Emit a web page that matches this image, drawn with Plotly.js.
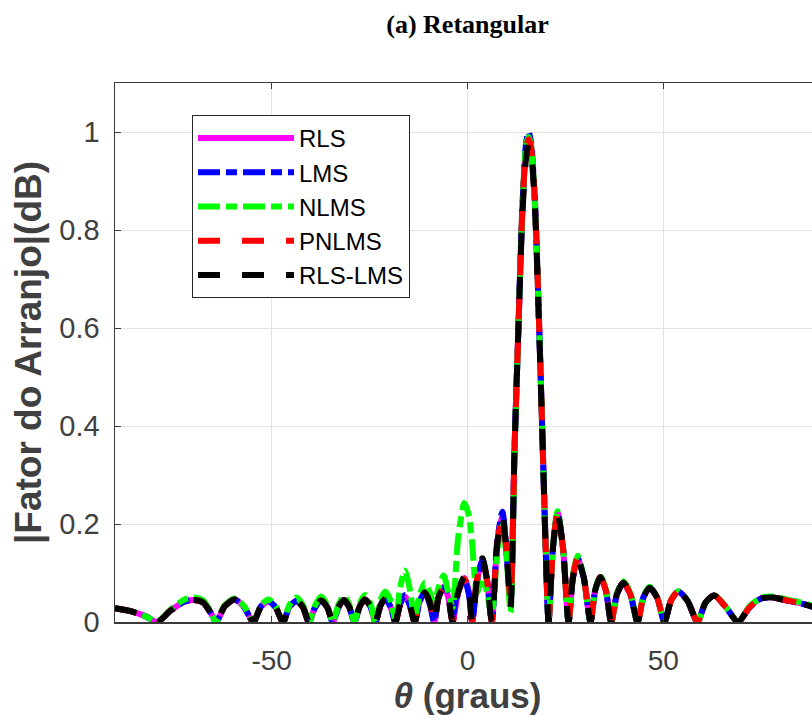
<!DOCTYPE html>
<html>
<head>
<meta charset="utf-8">
<script src="https://cdn.plot.ly/plotly-3.0.1.min.js"></script>
<style>html,body{margin:0;padding:0;overflow:hidden;background:#fff;}#chart{width:830px;height:715px;}</style>
</head>
<body>
<div id="chart"></div>
<script>
// Angle grid (degrees) shared by all series
const theta = [-90,-86,-82,-79.2,-76,-72.5,-70,-67.5,-65.5,-64.2,-62,-59.5,-57,-54.7,-52.7,-50.8,-49,-47.1,-45.5,-43.7,-42,-40.5,-38.9,-37.4,-35.8,-34.4,-32.9,-31.6,-30.2,-28.9,-27.5,-26.2,-24.8,-23.5,-22.2,-21,-19.7,-18.4,-17.2,-16,-14.8,-13.5,-12.2,-10.9,-9.6,-8.5,-7.4,-6.1,-4.9,-3.8,-2.4,-0.8,0.4,1.2,2.4,3.8,5,6.2,7.6,8.9,10,11,12,13,14,15,15.6,16.2,17.2,18.2,19.2,20,20.7,21.8,23,24.4,25.8,26.9,28.1,29.7,31.4,32.6,33.9,35.3,36.7,38.2,39.8,41.6,43.4,44.9,46.5,48.4,50.3,52,53.8,56.2,58.7,60.8,63,66,69.1,72,75,78,81,84,87,90];

const afRLS = [0.028,0.022,0.011,0,0.022,0.041,0.045,0.04,0.018,0,0.032,0.046,0.03,0,0.032,0.042,0.03,0,0.03,0.043,0.03,0,0.03,0.044,0.03,0,0.031,0.045,0.031,0,0.032,0.046,0.032,0,0.034,0.047,0.032,0,0.036,0.052,0.036,0,0.042,0.06,0.04,0,0.05,0.072,0.05,0,0.06,0.09,0.06,0,0.085,0.128,0.085,0,0.16,0.218,0.14,0.04,0.35,0.6,0.84,0.97,0.99,0.97,0.86,0.63,0.36,0.14,0,0.15,0.224,0.15,0,0.09,0.131,0.09,0,0.065,0.092,0.065,0,0.058,0.08,0.056,0,0.05,0.07,0.05,0,0.045,0.062,0.043,0,0.04,0.054,0.03,0,0.03,0.048,0.05,0.045,0.04,0.034,0.026];

const afLMS = [0.028,0.022,0.011,0,0.022,0.041,0.045,0.04,0.018,0,0.032,0.046,0.03,0,0.032,0.042,0.03,0,0.03,0.043,0.03,0,0.03,0.044,0.03,0,0.031,0.045,0.031,0,0.032,0.046,0.032,0,0.034,0.047,0.032,0,0.038,0.055,0.036,0,0.042,0.06,0.035,0,0.05,0.07,0.06,0.01,0.07,0.085,0.055,0,0.08,0.125,0.085,0,0.165,0.225,0.14,0.04,0.35,0.6,0.845,0.98,1.0,0.98,0.86,0.63,0.36,0.14,0,0.15,0.222,0.15,0,0.09,0.13,0.09,0,0.065,0.092,0.065,0,0.058,0.08,0.056,0,0.05,0.07,0.05,0,0.045,0.062,0.043,0,0.04,0.054,0.03,0,0.03,0.048,0.05,0.045,0.04,0.034,0.026];

const afNLMS = [0.028,0.022,0.011,0,0.024,0.045,0.05,0.044,0.02,0,0.034,0.048,0.032,0,0.034,0.046,0.032,0,0.034,0.05,0.034,0,0.034,0.052,0.035,0,0.036,0.053,0.036,0,0.038,0.055,0.038,0,0.045,0.062,0.045,0.005,0.07,0.105,0.07,0.01,0.055,0.08,0.06,0.035,0.07,0.095,0.06,0.03,0.17,0.243,0.215,0.16,0.06,0.09,0.06,0.01,0.14,0.205,0.13,0.02,0.34,0.6,0.84,0.975,0.99,0.975,0.86,0.63,0.36,0.14,0,0.15,0.226,0.15,0,0.095,0.135,0.09,0,0.065,0.094,0.067,0,0.06,0.083,0.058,0,0.052,0.072,0.05,0,0.045,0.063,0.043,0,0.04,0.055,0.03,0,0.032,0.05,0.052,0.047,0.042,0.036,0.028];

const afPNLMS = [0.028,0.022,0.011,0,0.022,0.041,0.045,0.04,0.018,0,0.032,0.046,0.03,0,0.032,0.042,0.03,0,0.03,0.043,0.03,0,0.03,0.044,0.03,0,0.031,0.045,0.031,0,0.032,0.046,0.032,0,0.034,0.047,0.032,0,0.036,0.05,0.036,0,0.042,0.06,0.04,0,0.05,0.07,0.05,0,0.06,0.088,0.06,0,0.085,0.128,0.085,0,0.16,0.215,0.14,0.045,0.35,0.6,0.84,0.97,0.985,0.97,0.86,0.63,0.36,0.14,0,0.15,0.222,0.15,0,0.09,0.13,0.09,0,0.065,0.092,0.065,0,0.058,0.08,0.056,0,0.05,0.07,0.05,0,0.045,0.062,0.043,0,0.04,0.054,0.03,0,0.03,0.048,0.05,0.045,0.04,0.034,0.026];

const afRLSLMS = [0.028,0.022,0.011,0,0.022,0.041,0.045,0.04,0.018,0,0.032,0.046,0.03,0,0.032,0.042,0.03,0,0.03,0.043,0.03,0,0.03,0.044,0.03,0,0.031,0.045,0.031,0,0.032,0.046,0.032,0,0.034,0.047,0.032,0,0.036,0.052,0.036,0,0.042,0.06,0.04,0,0.05,0.072,0.05,0,0.06,0.092,0.06,0,0.085,0.13,0.085,0,0.16,0.215,0.14,0.03,0.35,0.6,0.83,0.95,0.975,0.96,0.85,0.62,0.36,0.14,0,0.15,0.222,0.15,0,0.09,0.13,0.09,0,0.065,0.092,0.065,0,0.058,0.08,0.056,0,0.05,0.07,0.05,0,0.045,0.062,0.043,0,0.04,0.054,0.03,0,0.03,0.048,0.05,0.045,0.04,0.034,0.026];

const names = ['RLS','LMS','NLMS','PNLMS','RLS-LMS'];
const series = [afRLS, afLMS, afNLMS, afPNLMS, afRLSLMS];
const colors = ['#ff00ff','#0000ff','#00ff00','#ff0000','#000000'];
const dashes = ['solid','22px,6px,11px,6px','22px,6px,11px,6px','22px,22px','22px,22px'];

const traces = series.map((y, i) => ({
  x: theta, y: y, type: 'scatter', mode: 'lines', name: names[i],
  line: {color: colors[i], width: 6, dash: dashes[i], shape: 'spline', smoothing: 0.7}
}));

const axisCol = '#262626';
const layout = {
  width: 830, height: 715,
  margin: {l: 115, r: 10, t: 83, b: 93},
  paper_bgcolor: '#fff', plot_bgcolor: '#fff',
  showlegend: true,
  title: {text: '<b>(a) Retangular</b>', font: {family: 'Liberation Serif', size: 26, color: '#000'},
          x: 0.5, xref: 'paper', xanchor: 'center', y: 1 - 24/715, yref: 'container', yanchor: 'middle'},
  xaxis: {range: [-90, 90], tickvals: [-50, 0, 50], ticktext: ['-50','0','50'],
          showgrid: true, gridcolor: '#e3e3e3', gridwidth: 1, zeroline: false,
          showline: true, mirror: 'ticks', linecolor: '#3a3a3a', linewidth: 1.5,
          ticks: 'inside', ticklen: 6, tickcolor: '#3a3a3a', ticklabelstandoff: 13,
          tickfont: {family: 'Liberation Sans', size: 28, color: '#404040'},
          title: {text: '<b><i>θ</i> (graus)</b>', font: {family: 'Liberation Sans', size: 35, color: '#404040'}, standoff: 7}},
  yaxis: {range: [0, 1.1], tickvals: [0, 0.2, 0.4, 0.6, 0.8, 1], ticktext: ['0','0.2','0.4','0.6','0.8','1'],
          showgrid: true, gridcolor: '#e3e3e3', gridwidth: 1, zeroline: false,
          showline: true, mirror: 'ticks', linecolor: '#3a3a3a', linewidth: 1.5,
          ticks: 'inside', ticklen: 6, tickcolor: '#3a3a3a', ticklabelstandoff: 8,
          tickfont: {family: 'Liberation Sans', size: 29, color: '#404040'},
          title: {text: '<b>|Fator do Arranjo|(dB)</b>', font: {family: 'Liberation Sans', size: 37, color: '#404040'}, standoff: 6}},
  legend: {x: (192-115)/705, y: (622-115)/539, xanchor: 'left', yanchor: 'top',
           bgcolor: '#fff', bordercolor: axisCol, borderwidth: 1,
           font: {family: 'Liberation Sans', size: 24, color: '#000'},
           itemwidth: 96, traceorder: 'normal'}
};

Plotly.newPlot('chart', traces, layout, {displayModeBar: false, staticPlot: true});
</script>
</body>
</html>
